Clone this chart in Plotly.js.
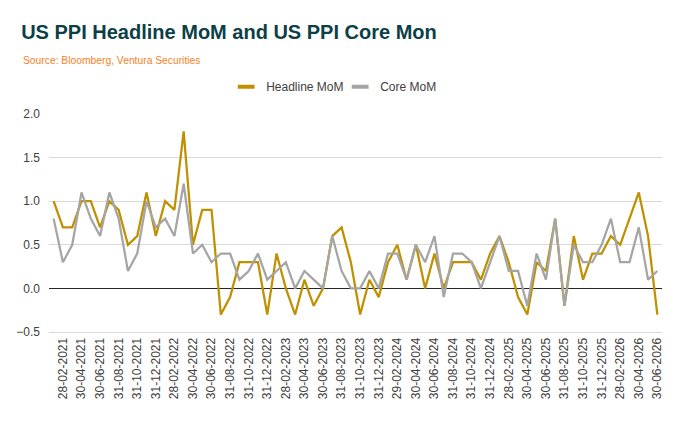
<!DOCTYPE html>
<html>
<head>
<meta charset="utf-8">
<script src="https://cdn.plot.ly/plotly-3.0.1.min.js"></script>
<style>
  html, body { margin: 0; padding: 0; background: #ffffff; }
  #chart { width: 683px; height: 423px; }
</style>
</head>
<body>
<div id="chart"></div>
<script>
// Month-end dates (categories)
const months = [
  "31-01-2021","28-02-2021","31-03-2021","30-04-2021","31-05-2021","30-06-2021",
  "31-07-2021","31-08-2021","30-09-2021","31-10-2021","30-11-2021","31-12-2021",
  "31-01-2022","28-02-2022","31-03-2022","30-04-2022","31-05-2022","30-06-2022",
  "31-07-2022","31-08-2022","30-09-2022","31-10-2022","30-11-2022","31-12-2022",
  "31-01-2023","28-02-2023","31-03-2023","30-04-2023","31-05-2023","30-06-2023",
  "31-07-2023","31-08-2023","30-09-2023","31-10-2023","30-11-2023","31-12-2023",
  "31-01-2024","29-02-2024","31-03-2024","30-04-2024","31-05-2024","30-06-2024",
  "31-07-2024","31-08-2024","30-09-2024","31-10-2024","30-11-2024","31-12-2024",
  "31-01-2025","28-02-2025","31-03-2025","30-04-2025","31-05-2025","30-06-2025",
  "31-07-2025","31-08-2025","30-09-2025","31-10-2025","30-11-2025","31-12-2025",
  "31-01-2026","28-02-2026","31-03-2026","30-04-2026","31-05-2026","30-06-2026"
];

// Tick labels shown on the x axis (every other month)
const tickLabels = [
  "28-02-2021","30-04-2021","30-06-2021","31-08-2021","31-10-2021","31-12-2021",
  "28-02-2022","30-04-2022","30-06-2022","31-08-2022","31-10-2022","31-12-2022",
  "28-02-2023","30-04-2023","30-06-2023","31-08-2023","31-10-2023","31-12-2023",
  "29-02-2024","30-04-2024","30-06-2024","31-08-2024","31-10-2024","31-12-2024",
  "28-02-2025","30-04-2025","30-06-2025","31-08-2025","31-10-2025","31-12-2025",
  "28-02-2026","30-04-2026","30-06-2026"
];

// US PPI Headline MoM (%)
const headlineMoM = [
  1.0, 0.7, 0.7, 1.0, 1.0, 0.7, 1.0, 0.9, 0.5, 0.6, 1.1, 0.6,
  1.0, 0.9, 1.8, 0.5, 0.9, 0.9, -0.3, -0.1, 0.3, 0.3, 0.3, -0.3,
  0.4, 0.0, -0.3, 0.1, -0.2, 0.0, 0.6, 0.7, 0.3, -0.3, 0.1, -0.1,
  0.3, 0.5, 0.1, 0.5, 0.0, 0.4, 0.0, 0.3, 0.3, 0.3, 0.1, 0.4,
  0.6, 0.3, -0.1, -0.3, 0.3, 0.2, 0.8, -0.2, 0.6, 0.1, 0.4, 0.4,
  0.6, 0.5, 0.8, 1.1, 0.6, -0.3
];

// US PPI Core MoM (%)
const coreMoM = [
  0.8, 0.3, 0.5, 1.1, 0.8, 0.6, 1.1, 0.8, 0.2, 0.4, 1.0, 0.7,
  0.8, 0.6, 1.2, 0.4, 0.5, 0.3, 0.4, 0.4, 0.1, 0.2, 0.4, 0.1,
  0.2, 0.3, 0.0, 0.2, 0.1, 0.0, 0.6, 0.2, 0.0, 0.0, 0.2, 0.0,
  0.4, 0.4, 0.1, 0.5, 0.3, 0.6, -0.1, 0.4, 0.4, 0.3, 0.0, 0.3,
  0.6, 0.2, 0.2, -0.2, 0.4, 0.1, 0.8, -0.2, 0.5, 0.3, 0.3, 0.5,
  0.8, 0.3, 0.3, 0.7, 0.1, 0.2
];

const seriesNames = ["Headline MoM", "Core MoM"];
const seriesColors = ["#BF9000", "#A5A5A5"];

const FONT = "Liberation Sans, Arial, sans-serif";

const traces = [
  {
    x: months, y: headlineMoM, type: "scatter", mode: "lines",
    name: seriesNames[0], showlegend: false,
    line: { color: seriesColors[0], width: 2.25 }
  },
  {
    x: months, y: coreMoM, type: "scatter", mode: "lines",
    name: seriesNames[1], showlegend: false,
    line: { color: seriesColors[1], width: 2.25 }
  },
  // legend-only entries with short line glyphs
  {
    x: [null], y: [null], type: "scatter", mode: "markers",
    name: seriesNames[0], showlegend: true, hoverinfo: "skip", legend: "legend",
    marker: { symbol: "line-ew", size: 12, color: seriesColors[0], line: { color: seriesColors[0], width: 4 } }
  },
  {
    x: [null], y: [null], type: "scatter", mode: "markers",
    name: seriesNames[1], showlegend: true, hoverinfo: "skip", legend: "legend2",
    marker: { symbol: "line-ew", size: 12, color: seriesColors[1], line: { color: seriesColors[1], width: 4 } }
  }
];

const legendBase = {
  orientation: "h",
  xanchor: "left",
  y: 1.125, yanchor: "middle",
  font: { family: FONT, size: 12, color: "#404040" },
  itemsizing: "trace",
  bgcolor: "rgba(0,0,0,0)",
  borderwidth: 0
};

const layout = {
  width: 683, height: 423,
  paper_bgcolor: "#ffffff", plot_bgcolor: "#ffffff",
  margin: { l: 49, r: 21, t: 114, b: 91, pad: 0 },
  font: { family: FONT, color: "#404040", size: 12 },
  title: {
    text: "US PPI Headline MoM and US PPI Core Mon",
    font: { family: FONT, size: 20, color: "#0D3F47", weight: "bold" },
    x: 0.031, xref: "container", xanchor: "left",
    y: 0.924, yref: "container", yanchor: "middle"
  },
  annotations: [
    {
      text: "Source: Bloomberg, Ventura Securities",
      xref: "paper", yref: "paper",
      x: -0.046, y: 1.245, xanchor: "left", yanchor: "middle",
      showarrow: false,
      font: { family: FONT, size: 10.3, color: "#F5821F" }
    }
  ],
  legend: Object.assign({}, legendBase, { x: 0.289 }),
  legend2: Object.assign({}, legendBase, { x: 0.475 }),
  xaxis: {
    type: "category",
    range: [-0.5, months.length - 0.5],
    tickmode: "array",
    tickvals: tickLabels,
    ticktext: tickLabels,
    tickangle: -90,
    ticks: "",
    tickfont: { family: FONT, size: 12, color: "#404040" },
    showgrid: false,
    zeroline: false,
    showline: true,
    linecolor: "#D9D9D9",
    linewidth: 1,
    fixedrange: true
  },
  yaxis: {
    range: [-0.5, 2.0],
    dtick: 0.5,
    tick0: 0,
    tickformat: ".1f",
    ticks: "",
    ticklabelstandoff: 8,
    tickfont: { family: FONT, size: 12, color: "#404040" },
    showgrid: true,
    gridcolor: "#D9D9D9",
    gridwidth: 1,
    zeroline: true,
    zerolinecolor: "#262626",
    zerolinewidth: 1,
    showline: false,
    fixedrange: true
  }
};

Plotly.newPlot("chart", traces, layout, { displayModeBar: false, staticPlot: true });
</script>
</body>
</html>
